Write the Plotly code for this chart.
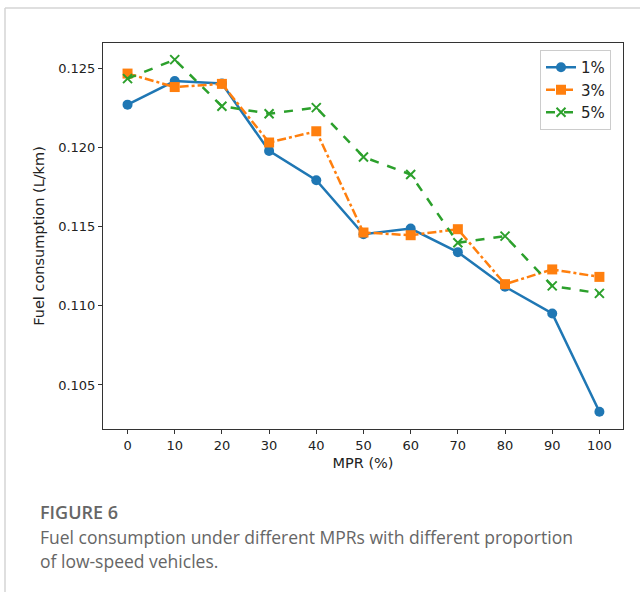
import plotly.graph_objects as go

mpr = [0, 10, 20, 30, 40, 50, 60, 70, 80, 90, 100]
fuel_1 = [0.12269, 0.12418, 0.12402, 0.11977, 0.11792, 0.11451, 0.11487, 0.11338, 0.11120, 0.10951, 0.10331]
fuel_3 = [0.12465, 0.12380, 0.12400, 0.12030, 0.12101, 0.11462, 0.11445, 0.11483, 0.11136, 0.11229, 0.11182]
fuel_5 = [0.12433, 0.12553, 0.12259, 0.12212, 0.12250, 0.11939, 0.11828, 0.11397, 0.11439, 0.11125, 0.11078]
series_names = ["1%", "3%", "5%"]
x_ticks = [0, 10, 20, 30, 40, 50, 60, 70, 80, 90, 100]
y_ticks = [0.105, 0.110, 0.115, 0.120, 0.125]

W, H = 640, 592
L, R, T, B = 103, 17, 43, 163
pw, ph = W - L - R, H - T - B

def px_x(x):
    return (x - L) / pw

def px_y(y):
    return 1 - (y - T) / ph

fig = go.Figure()
fig.add_trace(go.Scatter(x=mpr, y=fuel_1, name=series_names[0], mode="lines+markers",
                         line=dict(color="#1f77b4", width=2.5),
                         marker=dict(symbol="circle", size=10, color="#1f77b4")))
fig.add_trace(go.Scatter(x=mpr, y=fuel_3, name=series_names[1], mode="lines+markers",
                         line=dict(color="#ff7f0e", width=2.5, dash="dashdot"),
                         marker=dict(symbol="square", size=10, color="#ff7f0e")))
fig.add_trace(go.Scatter(x=mpr, y=fuel_5, name=series_names[2], mode="lines+markers",
                         line=dict(color="#2ca02c", width=2.5, dash="dash"),
                         marker=dict(symbol="x-thin-open", size=9, color="#2ca02c",
                                     line=dict(color="#2ca02c", width=2))))

axis_common = dict(showline=True, linecolor="#333333", linewidth=1, mirror=True,
                   ticks="outside", ticklen=4, tickcolor="#333333", showgrid=False,
                   zeroline=False, tickfont=dict(family="DejaVu Sans", size=13, color="#222"))
fig.update_xaxes(range=[-5.2, 105], tickvals=x_ticks, **axis_common,
                 title=dict(text="MPR (%)", font=dict(family="DejaVu Sans", size=14.5, color="#222"), standoff=6))
fig.update_yaxes(range=[0.10222, 0.12658], tickvals=y_ticks, tickformat=".3f", **axis_common,
                 title=dict(text="Fuel consumption (L/km)", font=dict(family="DejaVu Sans", size=14.5, color="#222"), standoff=10))

fig.update_layout(
    width=W, height=H,
    margin=dict(l=L, r=R, t=T, b=B),
    paper_bgcolor="white", plot_bgcolor="white",
    showlegend=True,
    legend=dict(x=px_x(540), y=px_y(50), xanchor="left", yanchor="top",
                bgcolor="rgba(255,255,255,0.9)", bordercolor="#cccccc", borderwidth=1,
                font=dict(family="DejaVu Sans", size=15, color="#222"),
                itemwidth=30, tracegroupgap=0),
    shapes=[
        dict(type="line", xref="paper", yref="paper", x0=px_x(5), x1=px_x(640), y0=px_y(8), y1=px_y(8),
             line=dict(color="#d5d5d5", width=1.5)),
        dict(type="line", xref="paper", yref="paper", x0=px_x(5), x1=px_x(5), y0=px_y(8), y1=px_y(592),
             line=dict(color="#d5d5d5", width=1.5)),
    ],
    annotations=[
        dict(text="FIGURE 6", xref="paper", yref="paper", x=px_x(38), y=px_y(512),
             xanchor="left", yanchor="middle", showarrow=False,
             font=dict(family="Open Sans", size=18, weight=600, color="#666666")),
        dict(text="Fuel consumption under different MPRs with different proportion", xref="paper", yref="paper",
             x=px_x(38), y=px_y(537), xanchor="left", yanchor="middle", showarrow=False,
             font=dict(family="Open Sans", size=17.5, color="#666666")),
        dict(text="of low-speed vehicles.", xref="paper", yref="paper",
             x=px_x(38), y=px_y(561), xanchor="left", yanchor="middle", showarrow=False,
             font=dict(family="Open Sans", size=17.5, color="#666666")),
    ],
)

fig.write_html("out.html", config={"displayModeBar": False},
               post_script="document.body.style.margin='0';document.body.style.overflow='hidden';")
